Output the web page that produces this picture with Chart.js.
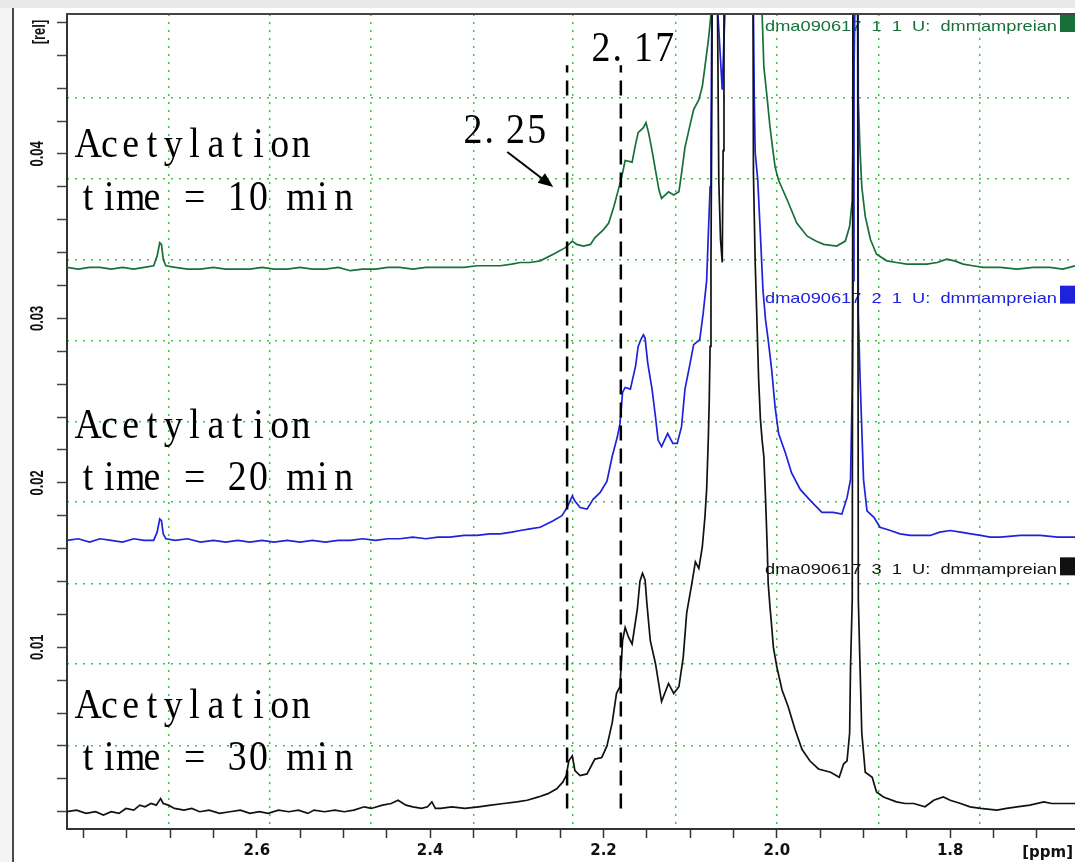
<!DOCTYPE html>
<html>
<head>
<meta charset="utf-8">
<title>Acetylation time series</title>
<script src="https://cdn.jsdelivr.net/npm/chart.js@4.4.1/dist/chart.umd.min.js"></script>
<style>
  html, body { margin: 0; padding: 0; background: #fff; overflow: hidden; }
  #wrap { position: relative; width: 1075px; height: 862px; }
  #topbar { position: absolute; left: 0; top: 0; width: 1075px; height: 8px; background: #e9e9e9; }
  #leftbar { position: absolute; left: 0; top: 8px; width: 12px; height: 854px; background: #f4f4f4; border-right: 2px solid #4a4a4a; }
  canvas { position: absolute; left: 0; top: 0; }
</style>
</head>
<body>
<div id="wrap">
  <canvas id="chart_wrap" width="1075" height="862"></canvas>
  <div id="topbar"></div>
  <div id="leftbar"></div>
</div>
<script>
// spectra as [ppm, rel] (0.06 = above the visible top)
const trace30 = [
  [2.819,0.0000],[2.808,0.0001],[2.797,-0.0001],[2.786,0.0000],[2.777,-0.0002],[2.768,0.0000],[2.759,-0.0001],
  [2.751,0.0002],[2.742,0.0001],[2.735,0.0004],[2.729,0.0003],[2.722,0.0005],[2.716,0.0004],[2.711,0.0008],
  [2.708,0.0005],[2.702,0.0004],[2.695,0.0002],[2.684,0.0001],[2.675,0.0002],[2.666,0.0000],[2.655,0.0001],
  [2.643,-0.0001],[2.631,0.0000],[2.619,0.0001],[2.608,-0.0001],[2.597,0.0000],[2.587,-0.0001],[2.575,0.0001],
  [2.563,0.0000],[2.552,0.0001],[2.541,-0.0001],[2.534,0.0001],[2.522,0.0000],[2.510,0.0001],[2.499,0.0000],
  [2.488,0.0001],[2.476,0.0003],[2.468,0.0002],[2.455,0.0004],[2.445,0.0005],[2.437,0.0007],[2.428,0.0004],
  [2.420,0.0003],[2.410,0.0002],[2.403,0.0003],[2.398,0.0006],[2.394,0.0002],[2.388,0.0002],[2.375,0.0003],
  [2.360,0.0002],[2.344,0.0003],[2.330,0.0004],[2.315,0.0005],[2.300,0.0006],[2.288,0.0007],[2.275,0.0009],
  [2.264,0.0011],[2.254,0.0014],[2.247,0.0018],[2.243,0.0022],[2.240,0.0031],[2.236,0.0034],[2.233,0.0025],
  [2.227,0.0022],[2.219,0.0023],[2.210,0.0032],[2.202,0.0033],[2.196,0.0040],[2.190,0.0054],[2.185,0.0072],
  [2.181,0.0076],[2.178,0.0104],[2.175,0.0112],[2.171,0.0106],[2.167,0.0102],[2.161,0.0123],[2.158,0.0140],
  [2.155,0.0145],[2.152,0.0141],[2.150,0.0127],[2.146,0.0104],[2.140,0.0090],[2.133,0.0067],[2.125,0.0078],
  [2.119,0.0072],[2.113,0.0076],[2.108,0.0094],[2.104,0.0121],[2.098,0.0139],[2.094,0.0152],[2.090,0.0148],
  [2.086,0.0161],[2.083,0.0179],[2.081,0.0196],[2.079,0.0228],[2.078,0.0250],[2.077,0.0283],[2.076,0.0335],
  [2.075,0.0433],[2.074,0.0600],[2.070,0.0600],[2.067,0.0384],[2.065,0.0348],[2.063,0.0334],[2.062,0.0402],
  [2.061,0.0600],[2.028,0.0600],[2.027,0.0388],[2.025,0.0334],[2.023,0.0299],[2.021,0.0263],[2.019,0.0239],
  [2.017,0.0226],[2.015,0.0216],[2.013,0.0190],[2.011,0.0159],[2.010,0.0139],[2.008,0.0125],[2.006,0.0113],
  [2.004,0.0100],[2.000,0.0088],[1.994,0.0074],[1.987,0.0064],[1.979,0.0050],[1.971,0.0038],[1.962,0.0031],
  [1.952,0.0026],[1.938,0.0024],[1.928,0.0021],[1.923,0.0029],[1.919,0.0031],[1.916,0.0048],[1.915,0.0088],
  [1.913,0.0129],[1.912,0.0600],[1.907,0.0600],[1.906,0.0129],[1.904,0.0088],[1.902,0.0048],[1.898,0.0024],
  [1.890,0.0021],[1.885,0.0012],[1.877,0.0009],[1.862,0.0006],[1.852,0.0005],[1.842,0.0005],[1.829,0.0003],
  [1.819,0.0007],[1.808,0.0009],[1.800,0.0007],[1.788,0.0005],[1.777,0.0003],[1.765,0.0002],[1.746,0.0001],
  [1.735,0.0002],[1.723,0.0003],[1.708,0.0004],[1.692,0.0006],[1.683,0.0005],[1.673,0.0005],[1.656,0.0005]
];

const trace20 = [
  [2.819,0.0165],[2.806,0.0166],[2.793,0.0164],[2.781,0.0166],[2.768,0.0165],[2.755,0.0164],[2.742,0.0166],
  [2.730,0.0165],[2.719,0.0165],[2.715,0.0170],[2.712,0.0178],[2.710,0.0177],[2.708,0.0169],[2.705,0.0166],
  [2.694,0.0165],[2.680,0.0166],[2.665,0.0164],[2.650,0.0165],[2.636,0.0164],[2.622,0.0165],[2.608,0.0164],
  [2.594,0.0165],[2.580,0.0164],[2.565,0.0165],[2.550,0.0164],[2.536,0.0165],[2.521,0.0164],[2.506,0.0165],
  [2.492,0.0165],[2.478,0.0166],[2.463,0.0165],[2.449,0.0166],[2.435,0.0166],[2.420,0.0167],[2.405,0.0166],
  [2.391,0.0167],[2.377,0.0167],[2.361,0.0168],[2.346,0.0168],[2.331,0.0169],[2.319,0.0169],[2.306,0.0170],
  [2.296,0.0171],[2.285,0.0172],[2.273,0.0173],[2.258,0.0177],[2.248,0.0180],[2.242,0.0185],[2.236,0.0192],
  [2.233,0.0189],[2.227,0.0185],[2.219,0.0184],[2.212,0.0190],[2.204,0.0194],[2.196,0.0201],[2.190,0.0216],
  [2.184,0.0228],[2.181,0.0236],[2.178,0.0255],[2.175,0.0258],[2.169,0.0257],[2.163,0.0271],[2.160,0.0283],
  [2.157,0.0287],[2.154,0.0290],[2.152,0.0288],[2.149,0.0273],[2.144,0.0257],[2.140,0.0240],[2.137,0.0226],
  [2.133,0.0222],[2.126,0.0230],[2.120,0.0224],[2.115,0.0224],[2.110,0.0234],[2.106,0.0257],[2.100,0.0273],
  [2.096,0.0284],[2.089,0.0287],[2.085,0.0303],[2.081,0.0323],[2.079,0.0352],[2.077,0.0380],[2.076,0.0408],
  [2.075,0.0485],[2.073,0.0600],[2.069,0.0600],[2.068,0.0485],[2.063,0.0439],[2.060,0.0485],[2.058,0.0600],
  [2.028,0.0600],[2.027,0.0485],[2.026,0.0433],[2.025,0.0401],[2.022,0.0384],[2.020,0.0362],[2.018,0.0340],
  [2.016,0.0317],[2.013,0.0299],[2.010,0.0287],[2.006,0.0269],[2.002,0.0246],[1.998,0.0230],[1.990,0.0218],
  [1.983,0.0206],[1.973,0.0196],[1.961,0.0189],[1.948,0.0182],[1.935,0.0182],[1.925,0.0181],[1.919,0.0191],
  [1.915,0.0202],[1.913,0.0258],[1.912,0.0323],[1.911,0.0600],[1.907,0.0600],[1.906,0.0303],[1.904,0.0264],
  [1.900,0.0202],[1.896,0.0183],[1.888,0.0179],[1.881,0.0173],[1.869,0.0171],[1.858,0.0169],[1.846,0.0168],
  [1.835,0.0168],[1.823,0.0168],[1.812,0.0170],[1.800,0.0171],[1.788,0.0170],[1.776,0.0169],[1.765,0.0168],
  [1.754,0.0167],[1.742,0.0167],[1.719,0.0168],[1.696,0.0168],[1.676,0.0167],[1.656,0.0167]
];

const trace10 = [
  [2.819,0.0331],[2.806,0.0330],[2.793,0.0331],[2.781,0.0331],[2.768,0.0330],[2.755,0.0331],[2.742,0.0330],
  [2.730,0.0331],[2.719,0.0332],[2.715,0.0338],[2.712,0.0346],[2.710,0.0345],[2.708,0.0336],[2.705,0.0332],
  [2.694,0.0331],[2.680,0.0330],[2.665,0.0330],[2.650,0.0331],[2.636,0.0330],[2.622,0.0330],[2.608,0.0330],
  [2.594,0.0331],[2.580,0.0330],[2.565,0.0330],[2.550,0.0331],[2.536,0.0330],[2.521,0.0330],[2.506,0.0331],
  [2.492,0.0329],[2.478,0.0330],[2.463,0.0330],[2.449,0.0331],[2.435,0.0331],[2.420,0.0330],[2.405,0.0331],
  [2.391,0.0331],[2.377,0.0331],[2.361,0.0331],[2.346,0.0332],[2.331,0.0332],[2.319,0.0332],[2.306,0.0333],
  [2.296,0.0334],[2.285,0.0334],[2.273,0.0335],[2.258,0.0339],[2.244,0.0343],[2.236,0.0347],[2.231,0.0345],
  [2.223,0.0344],[2.215,0.0345],[2.210,0.0349],[2.200,0.0354],[2.194,0.0358],[2.188,0.0368],[2.183,0.0378],
  [2.179,0.0386],[2.175,0.0396],[2.167,0.0395],[2.163,0.0406],[2.160,0.0413],[2.154,0.0416],[2.151,0.0419],
  [2.148,0.0413],[2.144,0.0402],[2.140,0.0390],[2.136,0.0378],[2.133,0.0373],[2.125,0.0377],[2.119,0.0375],
  [2.113,0.0377],[2.110,0.0388],[2.106,0.0404],[2.100,0.0418],[2.096,0.0427],[2.090,0.0433],[2.086,0.0441],
  [2.083,0.0453],[2.079,0.0469],[2.076,0.0485],[2.075,0.0600],[2.019,0.0600],[2.017,0.0485],[2.015,0.0453],
  [2.011,0.0433],[2.008,0.0417],[2.005,0.0404],[2.002,0.0392],[1.998,0.0384],[1.988,0.0372],[1.977,0.0358],
  [1.965,0.0350],[1.955,0.0347],[1.946,0.0345],[1.931,0.0344],[1.921,0.0347],[1.916,0.0356],[1.913,0.0372],
  [1.912,0.0413],[1.910,0.0485],[1.909,0.0600],[1.907,0.0600],[1.906,0.0433],[1.904,0.0402],[1.902,0.0380],
  [1.898,0.0362],[1.892,0.0348],[1.885,0.0339],[1.873,0.0335],[1.862,0.0334],[1.850,0.0333],[1.838,0.0333],
  [1.827,0.0333],[1.815,0.0334],[1.804,0.0336],[1.795,0.0335],[1.785,0.0333],[1.774,0.0332],[1.762,0.0331],
  [1.742,0.0331],[1.723,0.0330],[1.704,0.0331],[1.685,0.0331],[1.670,0.0330],[1.656,0.0332]
];

// dashed markers at 2.25 / 2.17
const markerPpm = [2.242, 2.180];
const markerRel = [0.0002, 0.0454];

// axes
const xRange = [1.656, 2.819];
const yRange = [-0.00105, 0.04851];
const xTickValues = [2.80,2.75,2.70,2.65,2.60,2.55,2.50,2.45,2.40,2.35,2.30,2.25,2.20,2.15,2.10,2.05,2.00,1.95,1.90,1.85,1.80,1.75,1.70];
const xLabelValues = [2.6, 2.4, 2.2, 2.0, 1.8];
const yTickValues = [0.000,0.002,0.004,0.006,0.008,0.010,0.012,0.014,0.016,0.018,0.020,0.022,0.024,0.026,0.028,0.030,0.032,0.034,0.036,0.038,0.040,0.042,0.044,0.046,0.048];
const yLabelValues = [0.01, 0.02, 0.03, 0.04];
const xGridPpm = [2.702, 2.585, 2.468, 2.350, 2.235, 2.117, 2.000, 1.883, 1.766];
const yGridRel = [0.00404, 0.00897, 0.01389, 0.01882, 0.02374, 0.02867, 0.03359, 0.03852, 0.04344];

// texts
const noteText = ['Acetylation', 'time = 10 min', 'Acetylation', 'time = 20 min', 'Acetylation', 'time = 30 min', '2.25', '2.17'];
const noteAt = [[2.807,0.03981],[2.807,0.03659],[2.807,0.02273],[2.807,0.01956],[2.807,0.00570],[2.807,0.00254],[2.363,0.04066],[2.2153,0.04565]];
const arrowAt = [[2.311, 0.04012], [2.258, 0.03799]];
const specNames = ['dma090617  1  1  U:  dmmampreian', 'dma090617  2  1  U:  dmmampreian', 'dma090617  3  1  U:  dmmampreian'];

const GREEN = '#17703a', BLUE = '#1e22dc', BLACK = '#111111';
const specColors = [GREEN, BLUE, BLACK];
const CELL = 21.3;

const toXY = tr => tr.map(p => ({ x: p[0], y: p[1] }));

const overlay = {
  id: 'overlay',
  beforeDatasetsDraw(chart) {
    const { ctx, chartArea: a } = chart;
    const band = (a.bottom - a.top) / 3;
    ctx.save();
    ctx.font = '15px "Liberation Sans"';
    ctx.textAlign = 'right';
    ctx.textBaseline = 'alphabetic';
    specNames.forEach((name, k) => {
      const top = a.top + k * band;
      ctx.fillStyle = specColors[k];
      ctx.fillRect(1060, top, a.right - 1060, 18);
      const w = ctx.measureText(name).width;
      ctx.save();
      ctx.translate(1057, top + 17);
      ctx.scale(292 / w, 1);
      ctx.fillText(name, 0, 0);
      ctx.restore();
    });
    ctx.restore();
  },
  afterDatasetsDraw(chart) {
    const { ctx, scales } = chart;
    const xs = scales.x, ys = scales.y;
    ctx.save();
    ctx.fillStyle = '#000';
    ctx.font = '42px "Liberation Serif"';
    ctx.textBaseline = 'alphabetic';
    noteText.forEach((txt, n) => {
      const px = xs.getPixelForValue(noteAt[n][0]);
      const py = ys.getPixelForValue(noteAt[n][1]);
      [...txt].forEach((ch, i) => {
        ctx.save();
        if (ch === '.') {
          // the full-width cell keeps the dot at its left side
          ctx.textAlign = 'left';
          ctx.translate(px + i * CELL + 1, py);
        } else {
          ctx.textAlign = 'center';
          ctx.translate(px + (i + 0.5) * CELL, py);
        }
        ctx.scale(0.9, 1);
        ctx.fillText(ch, 0, 0);
        ctx.restore();
      });
    });
    // arrow to the 2.25 line
    const x1 = xs.getPixelForValue(arrowAt[0][0]), y1 = ys.getPixelForValue(arrowAt[0][1]);
    const x2 = xs.getPixelForValue(arrowAt[1][0]), y2 = ys.getPixelForValue(arrowAt[1][1]);
    const ang = Math.atan2(y2 - y1, x2 - x1);
    ctx.strokeStyle = '#000';
    ctx.lineWidth = 2;
    ctx.beginPath();
    ctx.moveTo(x1, y1);
    ctx.lineTo(x2 - 10 * Math.cos(ang), y2 - 10 * Math.sin(ang));
    ctx.stroke();
    ctx.beginPath();
    ctx.moveTo(x2, y2);
    ctx.lineTo(x2 - 15 * Math.cos(ang) + 6 * Math.sin(ang), y2 - 15 * Math.sin(ang) - 6 * Math.cos(ang));
    ctx.lineTo(x2 - 15 * Math.cos(ang) - 6 * Math.sin(ang), y2 - 15 * Math.sin(ang) + 6 * Math.cos(ang));
    ctx.closePath();
    ctx.fill();
    ctx.restore();
  },
  afterDraw(chart) {
    const { ctx, chartArea: a, scales } = chart;
    ctx.save();
    // frame top
    ctx.strokeStyle = '#444';
    ctx.lineWidth = 2;
    ctx.beginPath();
    ctx.moveTo(a.left - 1, a.top);
    ctx.lineTo(a.right, a.top);
    ctx.stroke();
    // rotated y labels
    ctx.fillStyle = '#111';
    ctx.font = 'bold 13px "Liberation Sans"';
    ctx.textAlign = 'center';
    ctx.textBaseline = 'middle';
    const lab = (txt, x, y) => {
      ctx.save();
      ctx.translate(x, y);
      ctx.rotate(-Math.PI / 2);
      ctx.scale(1, 1.35);
      ctx.fillText(txt, 0, 0);
      ctx.restore();
    };
    yLabelValues.forEach(v => lab(v.toFixed(2), 38, scales.y.getPixelForValue(v)));
    lab('[rel]', 40, a.top + 18);
    // axis unit
    ctx.font = 'bold 15px "DejaVu Sans"';
    ctx.textAlign = 'right';
    ctx.textBaseline = 'alphabetic';
    ctx.fillText('[ppm]', a.right - 2, 857);
    ctx.restore();
  }
};

const lineSet = (data, color, width) => ({
  data, borderColor: color, borderWidth: width, pointRadius: 0, tension: 0, fill: false
});

const markerSets = markerPpm.map(p => ({
  data: markerRel.map(r => ({ x: p, y: r })),
  borderColor: '#000', borderWidth: 2.5, borderDash: [15, 8], pointRadius: 0, fill: false
}));

new Chart(document.getElementById('chart_wrap').getContext('2d'), {
  type: 'line',
  data: {
    datasets: [
      ...markerSets,
      lineSet(toXY(trace30), BLACK, 1.7),
      lineSet(toXY(trace20), BLUE, 1.7),
      lineSet(toXY(trace10), GREEN, 1.7)
    ]
  },
  options: {
    responsive: false,
    animation: false,
    layout: { padding: { top: 14, left: 0, right: 0, bottom: 0 } },
    plugins: { legend: { display: false }, tooltip: { enabled: false } },
    scales: {
      x: {
        type: 'linear', position: 'bottom', reverse: true, min: xRange[0], max: xRange[1],
        afterBuildTicks: s => { s.ticks = xTickValues.map(v => ({ value: v })); },
        afterFit: s => { s.height = 33; },
        ticks: {
          autoSkip: false, maxRotation: 0, padding: 4, color: '#111',
          font: { family: 'DejaVu Sans', size: 15, weight: 'bold' },
          callback: v => xLabelValues.some(l => Math.abs(l - v) < 1e-6) ? v.toFixed(1) : ''
        },
        grid: { drawOnChartArea: false, tickLength: 9, tickColor: '#333', tickWidth: 1.5 },
        border: { display: true, color: '#333', width: 2 }
      },
      xg: {
        type: 'linear', position: 'bottom', reverse: true, min: xRange[0], max: xRange[1],
        afterBuildTicks: s => { s.ticks = xGridPpm.map(v => ({ value: v })); },
        afterFit: s => { s.height = 0; },
        ticks: { display: false },
        grid: { color: '#36c836', lineWidth: 1.5, drawTicks: false },
        border: { display: false, dash: [2, 6] }
      },
      y: {
        type: 'linear', position: 'left', min: yRange[0], max: yRange[1],
        afterBuildTicks: s => { s.ticks = yTickValues.map(v => ({ value: v })); },
        afterFit: s => { s.width = 67; },
        ticks: { display: false },
        grid: { drawOnChartArea: false, tickLength: 10, tickColor: '#444', tickWidth: 1.5 },
        border: { display: true, color: '#333', width: 2 }
      },
      yg: {
        type: 'linear', position: 'left', min: yRange[0], max: yRange[1],
        afterBuildTicks: s => { s.ticks = yGridRel.map(v => ({ value: v })); },
        afterFit: s => { s.width = 0; },
        ticks: { display: false },
        grid: { color: '#36c836', lineWidth: 1.5, drawTicks: false },
        border: { display: false, dash: [2, 6] }
      }
    }
  },
  plugins: [overlay]
});
</script>
</body>
</html>
